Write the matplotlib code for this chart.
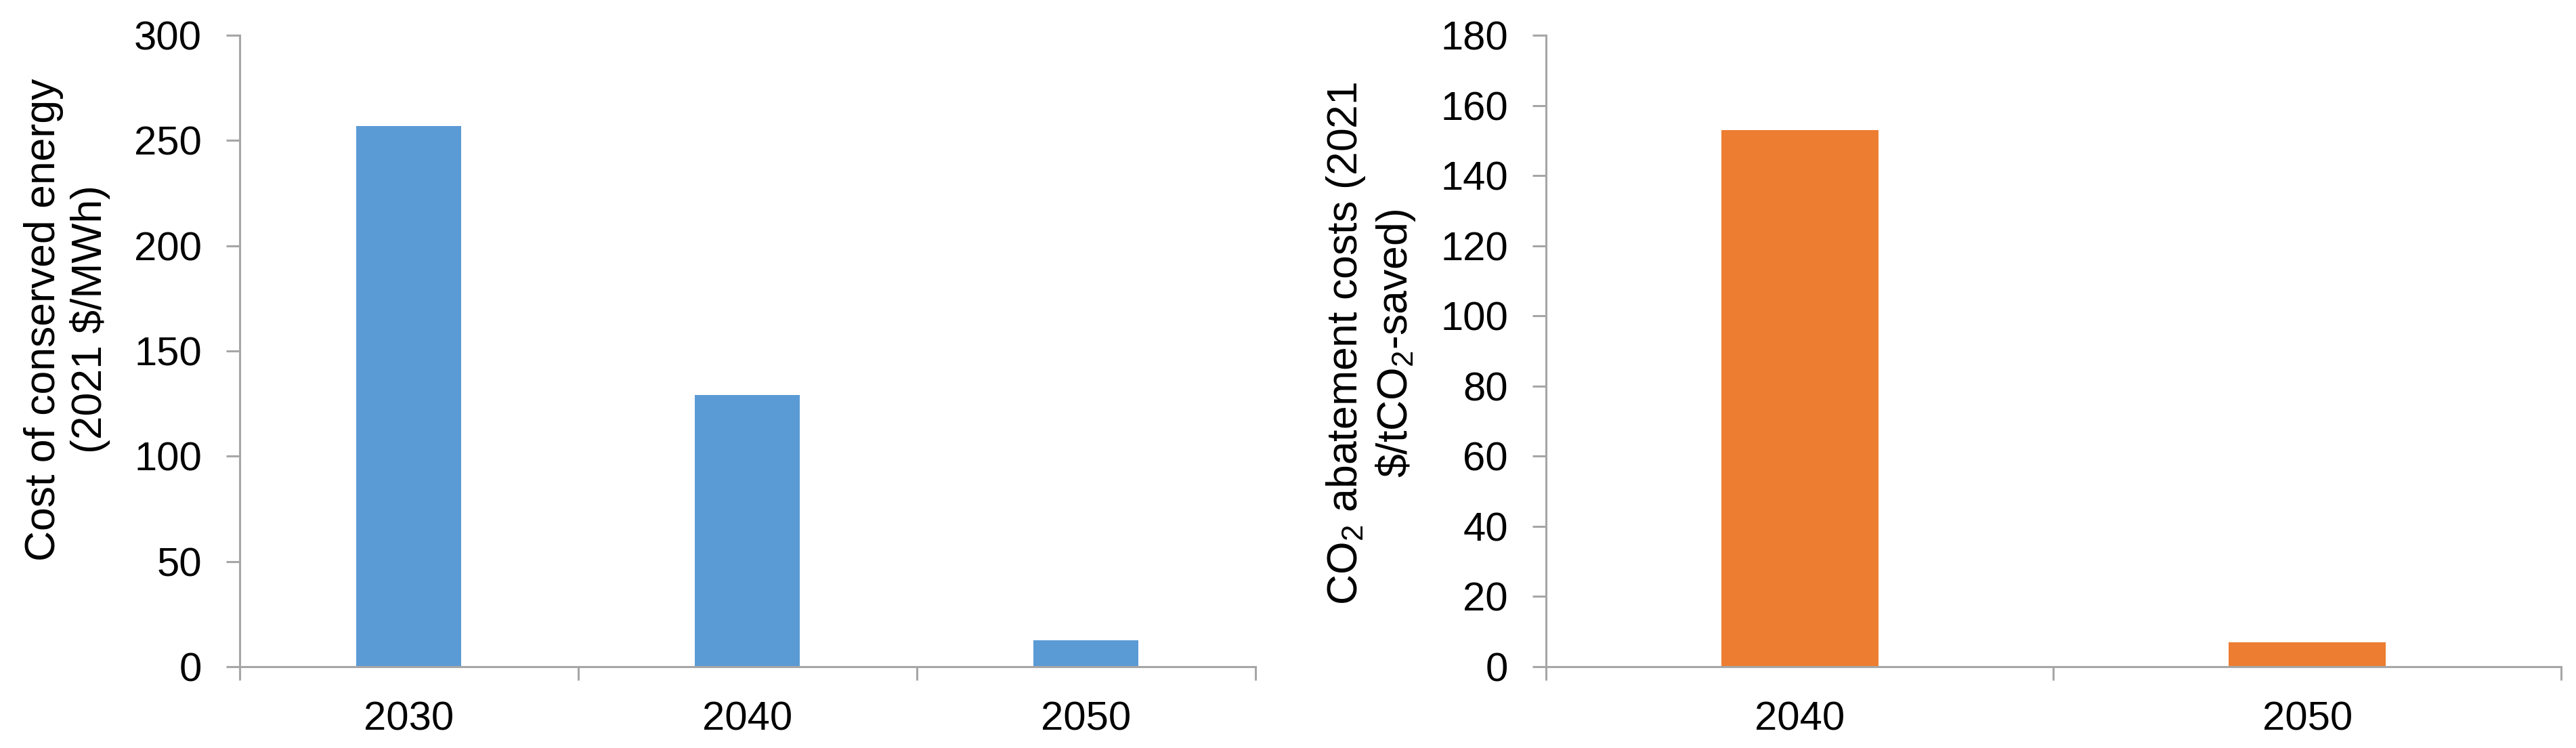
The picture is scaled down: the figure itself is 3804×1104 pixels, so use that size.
import numpy as np
import matplotlib.pyplot as plt
from matplotlib.ticker import MultipleLocator, FixedLocator

plt.rcParams['font.family'] = ['Liberation Sans', 'DejaVu Sans']
plt.rcParams['mathtext.fontset'] = 'custom'
plt.rcParams['mathtext.rm'] = 'Liberation Sans'
plt.rcParams['mathtext.it'] = 'Liberation Sans:italic'

# left panel: cost of conserved energy
cce_years = ['2030', '2040', '2050']
cce_values = [257, 129, 12.5]

# right panel: CO2 abatement costs
co2_years = ['2040', '2050']
co2_values = [153, 7]

blue = '#5B9BD5'
orange = '#ED7D31'
grey = '#A6A6A6'
fs = 43

fig = plt.figure(figsize=(38.05, 11.04), dpi=100)
ax1 = fig.add_axes([354 / 3805, 1 - 984 / 1104, 1500 / 3805, 932 / 1104])
ax2 = fig.add_axes([2283 / 3805, 1 - 984 / 1104, 1499 / 3805, 932 / 1104])


def style(ax, cats, vals, color, ymax, step, label, label_y):
    x = np.arange(len(cats))
    ax.bar(x, vals, width=0.31, color=color, zorder=2)
    ax.set_xlim(-0.5, len(cats) - 0.5)
    ax.set_ylim(0, ymax)
    ax.yaxis.set_major_locator(MultipleLocator(step))
    ax.set_xticks(x)
    ax.set_xticklabels(cats)
    ax.xaxis.set_minor_locator(FixedLocator(np.arange(len(cats) + 1) - 0.5))
    for s in ['top', 'right']:
        ax.spines[s].set_visible(False)
    for s in ['left', 'bottom']:
        ax.spines[s].set_color(grey)
        ax.spines[s].set_linewidth(2.2)
    ax.tick_params(axis='y', direction='out', length=14.4, width=2.2,
                   color=grey, labelsize=fs, pad=26)
    ax.tick_params(axis='x', which='major', length=0, labelsize=fs, pad=36)
    ax.tick_params(axis='x', which='minor', direction='out', length=14.4,
                   width=2.2, color=grey)
    ax.set_ylabel(label, fontsize=45, linespacing=1.2)
    ax.yaxis.set_label_coords(-0.127, label_y)


style(ax1, cce_years, cce_values, blue, 300, 50,
      'Cost of conserved energy\n(2021 \\$/MWh)', 0.55)
style(ax2, co2_years, co2_values, orange, 180, 20,
      'CO$_2$ abatement costs (2021\n\\$/tCO$_2$-saved)', 0.512)

fig.savefig('out.png', dpi=100)
